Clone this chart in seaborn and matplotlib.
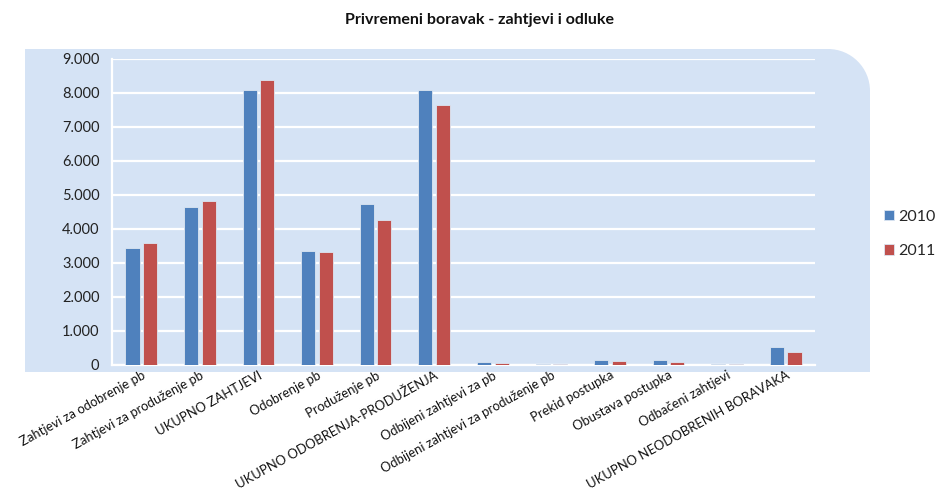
import numpy as np
import pandas as pd
import matplotlib
matplotlib.use("Agg")
import matplotlib.pyplot as plt
from matplotlib.path import Path
from matplotlib.patches import PathPatch
from matplotlib.ticker import FuncFormatter
import seaborn as sns

categories = [
    "Zahtjevi za odobrenje pb",
    "Zahtjevi za produženje pb",
    "UKUPNO ZAHTJEVI",
    "Odobrenje pb",
    "Produženje pb",
    "UKUPNO ODOBRENJA-PRODUŽENJA",
    "Odbijeni zahtjevi za pb",
    "Odbijeni zahtjevi za produženje pb",
    "Prekid postupka",
    "Obustava postupka",
    "Odbačeni zahtjevi",
    "UKUPNO NEODOBRENIH BORAVAKA",
]
values_2010 = [3440, 4650, 8090, 3360, 4740, 8100, 100, 40, 160, 160, 40, 520]
values_2011 = [3580, 4810, 8390, 3320, 4270, 7650, 70, 40, 130, 100, 40, 390]
years = ["2010", "2011"]
colors = ["#4F81BD", "#C0504D"]

df = pd.DataFrame({
    "kategorija": categories * 2,
    "godina": [years[0]] * len(categories) + [years[1]] * len(categories),
    "vrijednost": values_2010 + values_2011,
})

sns.set_style("white")
plt.rcParams["font.family"] = ["Lato", "DejaVu Sans"]

W, H = 937, 492
fig = plt.figure(figsize=(W / 100, H / 100), dpi=100)

# light blue panel with rounded top-right corner (pixel coords -> figure fraction)
x0, x1, y0, y1, r = 25, 870, 49, 372, 42
k = 0.5523 * r
verts = [(x0, y1), (x0, y0), (x1 - r, y0),
         (x1 - r + k, y0), (x1, y0 + r - k), (x1, y0 + r),
         (x1, y1), (x0, y1)]
codes = [Path.MOVETO, Path.LINETO, Path.LINETO,
         Path.CURVE4, Path.CURVE4, Path.CURVE4,
         Path.LINETO, Path.CLOSEPOLY]
verts = [(vx / W, 1 - vy / H) for vx, vy in verts]
panel = PathPatch(Path(verts, codes), facecolor="#D5E3F5", edgecolor="none",
                  transform=fig.transFigure, zorder=-5)
fig.patches.append(panel)

ax = fig.add_axes([112 / W, 1 - 365 / H, (815 - 112) / W, (365 - 59) / H])
ax.set_zorder(1)
ax.set_facecolor("none")

sns.barplot(data=df, x="kategorija", y="vrijednost", hue="godina",
            palette=colors, saturation=1, width=0.6, gap=0.2, ax=ax,
            edgecolor="#DCE6F2", linewidth=0.6, zorder=3)

ax.set_ylim(0, 9000)
ax.set_xlim(-0.5, len(categories) - 0.5)
ax.set_yticks(np.arange(0, 9001, 1000))
ax.yaxis.set_major_formatter(FuncFormatter(lambda v, p: f"{int(v):,}".replace(",", ".")))
ax.grid(axis="y", color="white", linewidth=1.6, zorder=1)
ax.set_axisbelow(True)

for s in ["top", "right"]:
    ax.spines[s].set_visible(False)
ax.spines["left"].set_color("white")
ax.spines["left"].set_linewidth(1.6)
ax.spines["bottom"].set_color("white")
ax.spines["bottom"].set_linewidth(1.6)

ax.set_xticks(np.arange(len(categories)))
ax.set_xticks(np.arange(-0.5, len(categories)), minor=True)
ax.tick_params(axis="x", which="major", length=0, pad=3)
ax.tick_params(axis="x", which="minor", length=5, color="white", width=1.4)
ax.tick_params(axis="y", length=0, labelsize=10.5, labelcolor="#222222", pad=9)
ax.set_xticklabels(categories, rotation=29, ha="right", rotation_mode="anchor",
                   fontsize=9.4, color="#111111")
ax.set_xlabel("")
ax.set_ylabel("")

ax.legend_.remove()
handles, labels = ax.get_legend_handles_labels()
fig.legend(handles[:2], years, loc="center left", bbox_to_anchor=(884 / W, 1 - 234 / H),
           frameon=False, fontsize=11.5, handlelength=0.6, handleheight=0.65,
           handletextpad=0.3, labelspacing=1.3, borderpad=0, borderaxespad=0)

fig.text(480 / W, 1 - 20 / H, "Privremeni boravak - zahtjevi i odluke",
         ha="center", va="center", fontsize=11.5, fontweight="bold", color="#111111")

fig.savefig("out.png", dpi=100)
